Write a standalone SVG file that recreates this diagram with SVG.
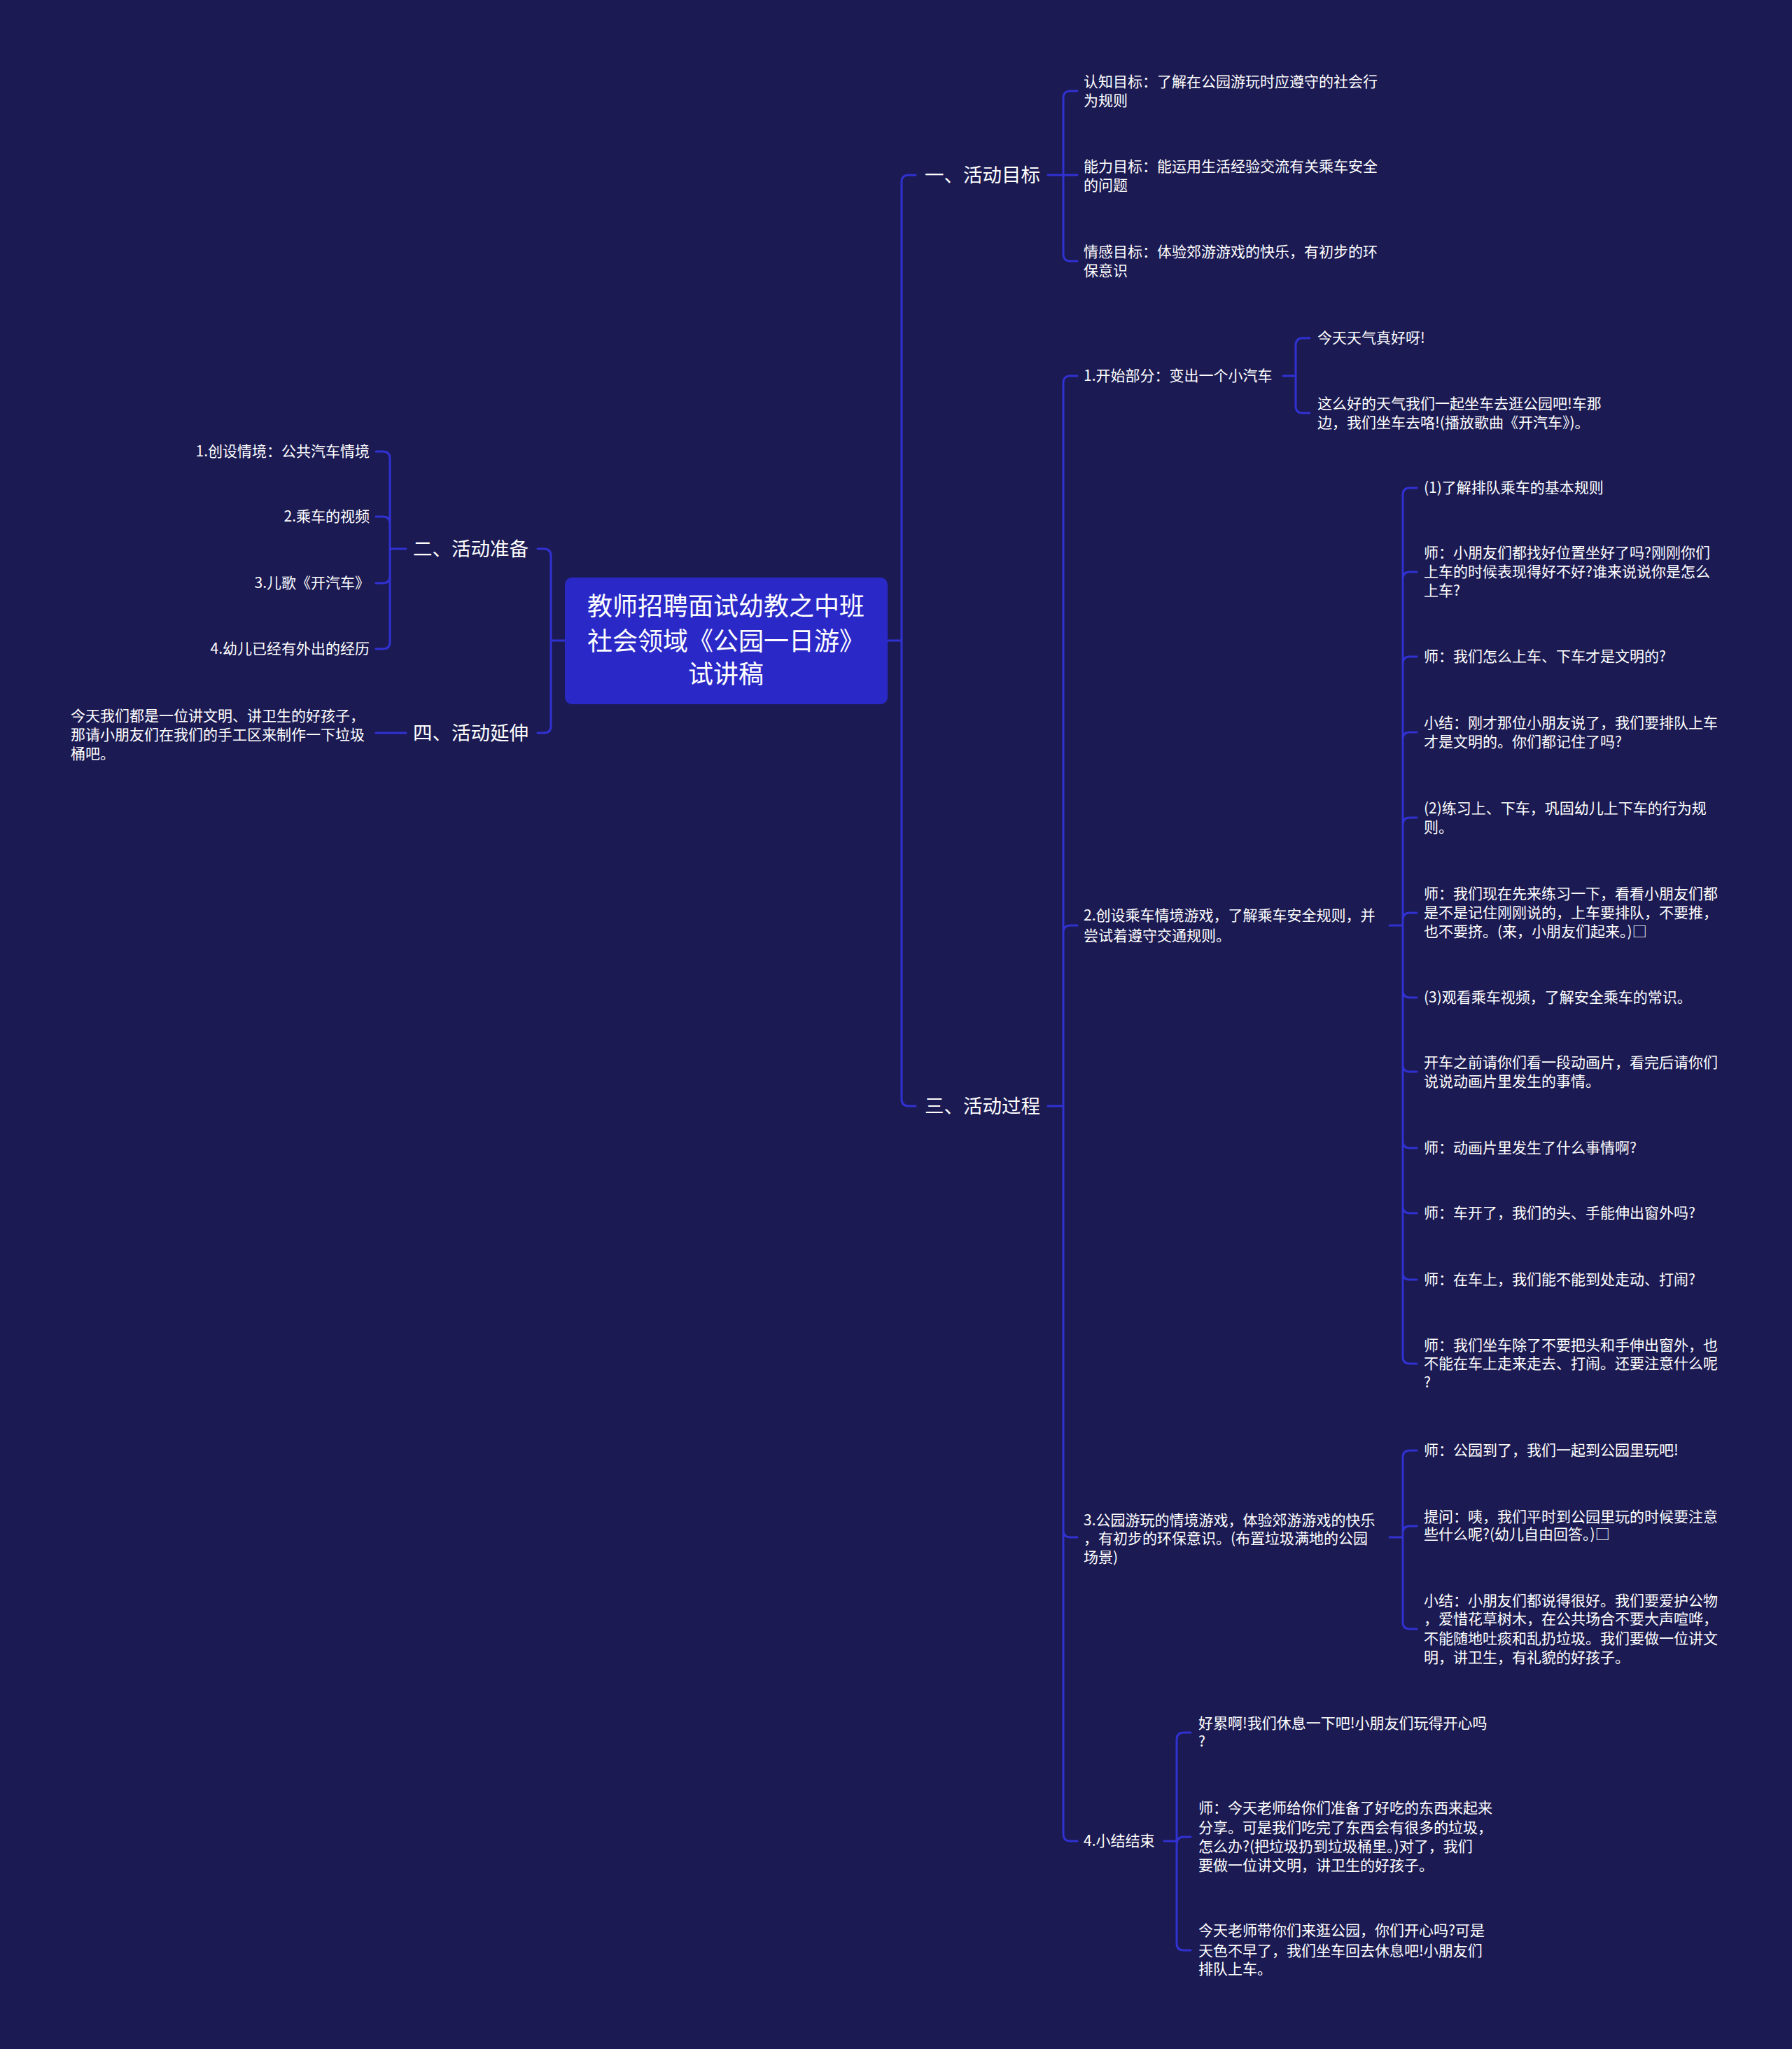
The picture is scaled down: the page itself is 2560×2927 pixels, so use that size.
<svg xmlns="http://www.w3.org/2000/svg" width="2560" height="2927" viewBox="0 0 2560 2927">
<style>
text{font-family:"Noto Sans CJK SC","Noto Sans",sans-serif;fill:#ffffff}
.root{font-size:36px}
.l1{font-size:27.5px}
.lf{font-size:21px}
.c{fill:none;stroke:#3131d2;stroke-width:3;stroke-linecap:round}
</style>
<rect x="0" y="0" width="2560" height="2927" fill="#1b1a52"/>
<g id="connectors">
<path class="c" d="M1268,915 H1288 M1288,915 V260 Q1288,250 1298,250 H1308 M1288,915 V1570 Q1288,1580 1298,1580 H1308"/>
<path class="c" d="M807,915 H787 M787,915 V794 Q787,784 777,784 H768 M787,915 V1037 Q787,1047 777,1047 H768"/>
<path class="c" d="M1497,250 H1519 M1519,250 V140 Q1519,130 1529,130 H1539 M1519,250 H1539 M1519,250 V363 Q1519,373 1529,373 H1539"/>
<path class="c" d="M1497,1580 H1519 M1519,1580 V547 Q1519,537 1529,537 H1539 M1519,1580 V1332 Q1519,1322 1529,1322 H1539 M1519,1580 V2186 Q1519,2196 1529,2196 H1539 M1519,1580 V2620 Q1519,2630 1529,2630 H1539"/>
<path class="c" d="M1833,537 H1851 M1851,537 V493 Q1851,483 1861,483 H1871 M1851,537 V580 Q1851,590 1861,590 H1871"/>
<path class="c" d="M1985,1322 H2004 M2004,1322 V707 Q2004,697 2014,697 H2024 M2004,1322 V827 Q2004,817 2014,817 H2024 M2004,1322 V948 Q2004,938 2014,938 H2024 M2004,1322 V1056 Q2004,1046 2014,1046 H2024 M2004,1322 V1178 Q2004,1168 2014,1168 H2024 M2004,1322 V1314 Q2004,1304 2014,1304 H2024 M2004,1322 V1415 Q2004,1425 2014,1425 H2024 M2004,1322 V1521 Q2004,1531 2014,1531 H2024 M2004,1322 V1630 Q2004,1640 2014,1640 H2024 M2004,1322 V1723 Q2004,1733 2014,1733 H2024 M2004,1322 V1818 Q2004,1828 2014,1828 H2024 M2004,1322 V1938 Q2004,1948 2014,1948 H2024"/>
<path class="c" d="M1985,2196 H2004 M2004,2196 V2082 Q2004,2072 2014,2072 H2024 M2004,2196 V2190 Q2004,2180 2014,2180 H2024 M2004,2196 V2317 Q2004,2327 2014,2327 H2024"/>
<path class="c" d="M1663,2630 H1681 M1681,2630 V2485 Q1681,2475 1691,2475 H1701 M1681,2630 V2634 Q1681,2624 1691,2624 H1701 M1681,2630 V2776 Q1681,2786 1691,2786 H1701"/>
<path class="c" d="M580,784 H557 M557,784 V655 Q557,645 547,645 H537 M557,784 V748 Q557,738 547,738 H537 M557,784 V823 Q557,833 547,833 H537 M557,784 V917 Q557,927 547,927 H537"/>
<path class="c" d="M580,1047 H537"/>
</g>
<g id="root">
<rect x="807" y="825" width="461" height="181" rx="10" fill="#2a29c8"/>
<text class="root" text-anchor="middle"><tspan x="1037" y="879">教师招聘面试幼教之中班</tspan><tspan x="1037" y="929">社会领域《公园一日游》</tspan><tspan x="1037" y="976">试讲稿</tspan></text>
</g>
<g id="n1"><text class="l1" x="1321" y="260">一、活动目标</text></g>
<g id="n1a"><text class="lf"><tspan x="1548" y="124">认知目标：了解在公园游玩时应遵守的社会行</tspan><tspan x="1548" y="151">为规则</tspan></text></g>
<g id="n1b"><text class="lf"><tspan x="1548" y="245">能力目标：能运用生活经验交流有关乘车安全</tspan><tspan x="1548" y="272">的问题</tspan></text></g>
<g id="n1c"><text class="lf"><tspan x="1548" y="367">情感目标：体验郊游游戏的快乐，有初步的环</tspan><tspan x="1548" y="394">保意识</tspan></text></g>
<g id="n2"><text class="l1" x="590" y="794">二、活动准备</text></g>
<g id="n2a"><text class="lf" text-anchor="end" x="528" y="652">1.创设情境：公共汽车情境</text></g>
<g id="n2b"><text class="lf" text-anchor="end" x="528" y="745">2.乘车的视频</text></g>
<g id="n2c"><text class="lf" text-anchor="end" x="528" y="840">3.儿歌《开汽车》</text></g>
<g id="n2d"><text class="lf" text-anchor="end" x="528" y="934">4.幼儿已经有外出的经历</text></g>
<g id="n4"><text class="l1" x="590" y="1057">四、活动延伸</text></g>
<g id="n4a"><text class="lf"><tspan x="101" y="1030">今天我们都是一位讲文明、讲卫生的好孩子，</tspan><tspan x="101" y="1057">那请小朋友们在我们的手工区来制作一下垃圾</tspan><tspan x="101" y="1084">桶吧。</tspan></text></g>
<g id="n3"><text class="l1" x="1321" y="1590">三、活动过程</text></g>
<g id="n31"><text class="lf" x="1548" y="544">1.开始部分：变出一个小汽车</text></g>
<g id="n31a"><text class="lf" x="1882" y="490">今天天气真好呀!</text></g>
<g id="n31b"><text class="lf"><tspan x="1882" y="584">这么好的天气我们一起坐车去逛公园吧!车那</tspan><tspan x="1882" y="611">边，我们坐车去咯!(播放歌曲《开汽车》)。</tspan></text></g>
<g id="n32"><text class="lf"><tspan x="1548" y="1315">2.创设乘车情境游戏，了解乘车安全规则，并</tspan><tspan x="1548" y="1344">尝试着遵守交通规则。</tspan></text></g>
<g id="n32a"><text class="lf" x="2034" y="704">(1)了解排队乘车的基本规则</text></g>
<g id="n32b"><text class="lf"><tspan x="2034" y="797">师：小朋友们都找好位置坐好了吗?刚刚你们</tspan><tspan x="2034" y="824">上车的时候表现得好不好?谁来说说你是怎么</tspan><tspan x="2034" y="851">上车?</tspan></text></g>
<g id="n32c"><text class="lf" x="2034" y="945">师：我们怎么上车、下车才是文明的?</text></g>
<g id="n32d"><text class="lf"><tspan x="2034" y="1040">小结：刚才那位小朋友说了，我们要排队上车</tspan><tspan x="2034" y="1067">才是文明的。你们都记住了吗?</tspan></text></g>
<g id="n32e"><text class="lf"><tspan x="2034" y="1162">(2)练习上、下车，巩固幼儿上下车的行为规</tspan><tspan x="2034" y="1189">则。</tspan></text></g>
<g id="n32f"><text class="lf"><tspan x="2034" y="1284">师：我们现在先来练习一下，看看小朋友们都</tspan><tspan x="2034" y="1311">是不是记住刚刚说的，上车要排队，不要推，</tspan><tspan x="2034" y="1338">也不要挤。(来，小朋友们起来。)□</tspan></text></g>
<g id="n32g"><text class="lf" x="2034" y="1432">(3)观看乘车视频，了解安全乘车的常识。</text></g>
<g id="n32h"><text class="lf"><tspan x="2034" y="1525">开车之前请你们看一段动画片，看完后请你们</tspan><tspan x="2034" y="1552">说说动画片里发生的事情。</tspan></text></g>
<g id="n32i"><text class="lf" x="2034" y="1647">师：动画片里发生了什么事情啊?</text></g>
<g id="n32j"><text class="lf" x="2034" y="1740">师：车开了，我们的头、手能伸出窗外吗?</text></g>
<g id="n32k"><text class="lf" x="2034" y="1835">师：在车上，我们能不能到处走动、打闹?</text></g>
<g id="n32l"><text class="lf"><tspan x="2034" y="1929">师：我们坐车除了不要把头和手伸出窗外，也</tspan><tspan x="2034" y="1955">不能在车上走来走去、打闹。还要注意什么呢</tspan><tspan x="2034" y="1982">?</tspan></text></g>
<g id="n33"><text class="lf"><tspan x="1548" y="2179">3.公园游玩的情境游戏，体验郊游游戏的快乐</tspan><tspan x="1548" y="2205">，有初步的环保意识。(布置垃圾满地的公园</tspan><tspan x="1548" y="2232">场景)</tspan></text></g>
<g id="n33a"><text class="lf" x="2034" y="2079">师：公园到了，我们一起到公园里玩吧!</text></g>
<g id="n33b"><text class="lf"><tspan x="2034" y="2174">提问：咦，我们平时到公园里玩的时候要注意</tspan><tspan x="2034" y="2199">些什么呢?(幼儿自由回答。)□</tspan></text></g>
<g id="n33c"><text class="lf"><tspan x="2034" y="2294">小结：小朋友们都说得很好。我们要爱护公物</tspan><tspan x="2034" y="2320">，爱惜花草树木，在公共场合不要大声喧哗，</tspan><tspan x="2034" y="2348">不能随地吐痰和乱扔垃圾。我们要做一位讲文</tspan><tspan x="2034" y="2375">明，讲卫生，有礼貌的好孩子。</tspan></text></g>
<g id="n34"><text class="lf" x="1548" y="2637">4.小结结束</text></g>
<g id="n34a"><text class="lf"><tspan x="1712" y="2469">好累啊!我们休息一下吧!小朋友们玩得开心吗</tspan><tspan x="1712" y="2495">?</tspan></text></g>
<g id="n34b"><text class="lf"><tspan x="1712" y="2590">师：今天老师给你们准备了好吃的东西来起来</tspan><tspan x="1712" y="2618">分享。可是我们吃完了东西会有很多的垃圾，</tspan><tspan x="1712" y="2645">怎么办?(把垃圾扔到垃圾桶里。)对了，我们</tspan><tspan x="1712" y="2672">要做一位讲文明，讲卫生的好孩子。</tspan></text></g>
<g id="n34c"><text class="lf"><tspan x="1712" y="2765">今天老师带你们来逛公园，你们开心吗?可是</tspan><tspan x="1712" y="2794">天色不早了，我们坐车回去休息吧!小朋友们</tspan><tspan x="1712" y="2820">排队上车。</tspan></text></g>
</svg>
